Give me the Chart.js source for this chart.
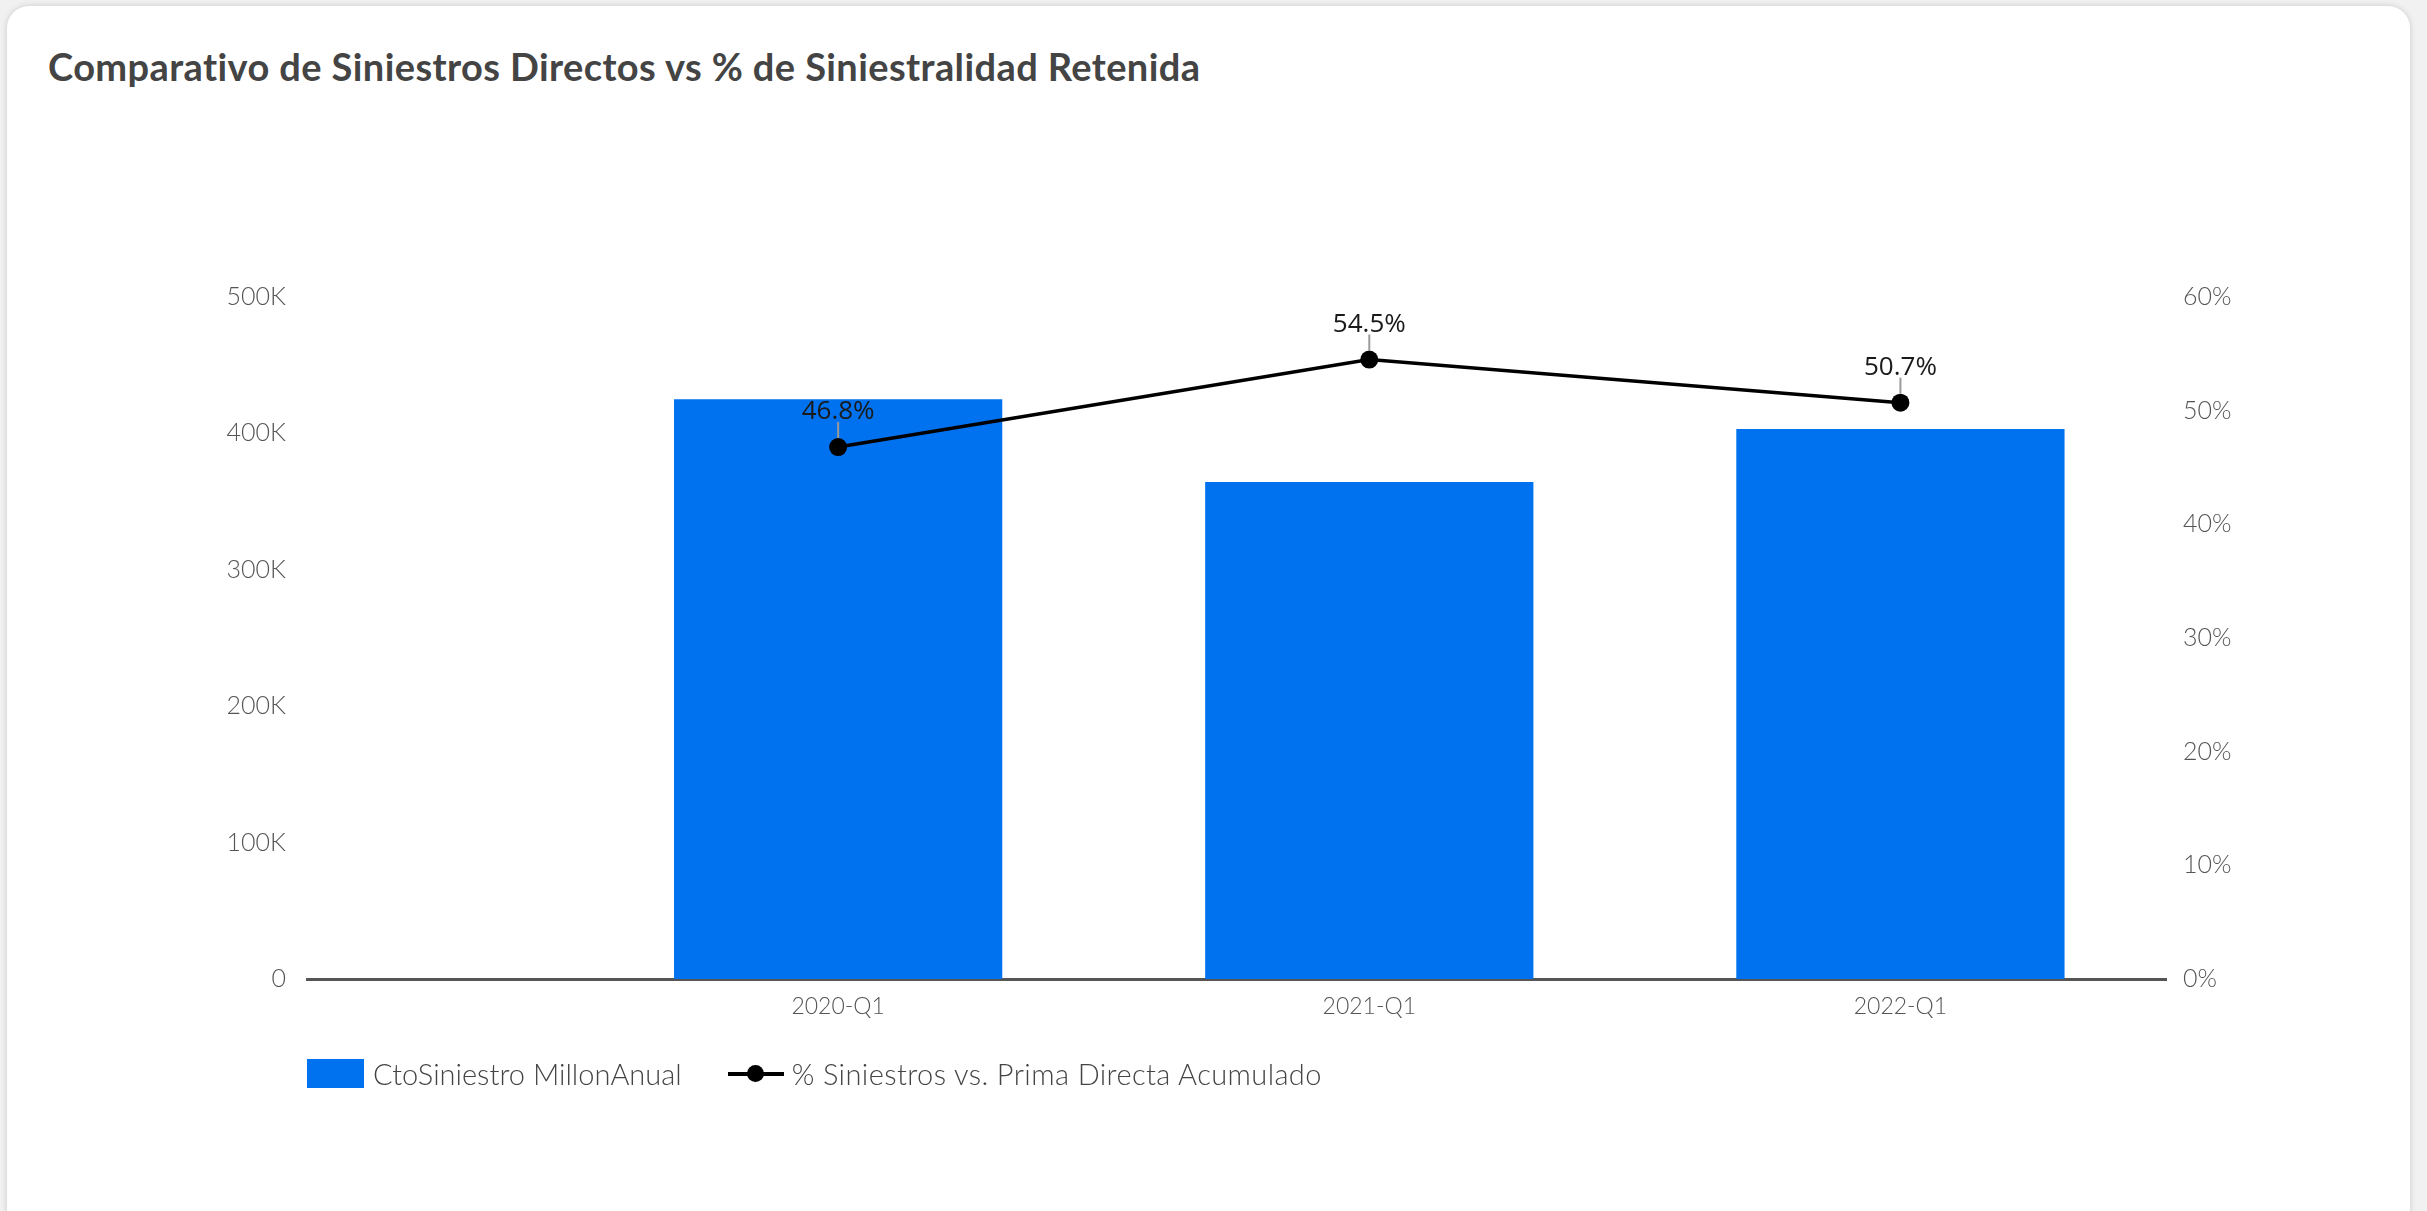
<!DOCTYPE html>
<html>
<head>
<meta charset="utf-8">
<script src="https://cdn.jsdelivr.net/npm/chart.js@4.4.1/dist/chart.umd.min.js"></script>
<style>
html,body{margin:0;padding:0;width:2427px;height:1211px;overflow:hidden;background:#f1f1f1;}
#card{position:absolute;left:7px;top:6px;width:2403px;height:1260px;background:#fff;border-radius:22px;box-shadow:0 0 6px rgba(0,0,0,0.16);}
#title{position:absolute;left:48px;top:43px;font:700 38px Lato, sans-serif;letter-spacing:0.4px;color:#444;white-space:nowrap;}
canvas{position:absolute;left:0;top:0;}
#legend{position:absolute;left:307px;top:1052px;height:42px;display:flex;align-items:center;font:300 29px Lato, sans-serif;color:#444;white-space:nowrap;}
#legend span.t2{letter-spacing:0.4px;}
.box{width:57px;height:29px;background:#0072f0;margin-right:9px;}
.sym{position:relative;width:56px;height:29px;margin-left:46px;margin-right:8px;}
.sym .ln{position:absolute;left:0;right:0;top:13px;height:4px;background:#000;}
.sym .dot{position:absolute;left:19px;top:6px;width:17px;height:17px;border-radius:50%;background:#000;}
</style>
</head>
<body>
<div id="card"></div>
<div id="title">Comparativo de Siniestros Directos vs % de Siniestralidad Retenida</div>
<canvas id="c" width="2427" height="1211"></canvas>
<div id="legend"></div>
<script>
const categories = ['2020-Q1', '2021-Q1', '2022-Q1'];
const categoryPositions = [0, 1, 2];
const siniestrosValues = [425000, 364400, 403200];
const siniestralidadPct = [46.8, 54.5, 50.7];
const barLabel = 'CtoSiniestro MillonAnual';
const lineLabel = '% Siniestros vs. Prima Directa Acumulado';
const leftTicks = [0, 100000, 200000, 300000, 400000, 500000];
const rightTicks = [0, 10, 20, 30, 40, 50, 60];

const barColor = '#0072f0';
const xTickFont = {family: 'Lato', size: 23, weight: '300'};
const yTickFont = {family: 'Lato', size: 25, weight: '300'};

const pointLabels = {
  id: 'pointLabels',
  afterDatasetsDraw(chart) {
    const meta = chart.getDatasetMeta(1);
    const ctx = chart.ctx;
    ctx.save();
    meta.data.forEach((pt, i) => {
      ctx.strokeStyle = '#9a9a9a';
      ctx.lineWidth = 2;
      ctx.beginPath();
      ctx.moveTo(pt.x, pt.y - 9);
      ctx.lineTo(pt.x, pt.y - 25);
      ctx.stroke();
      ctx.fillStyle = '#1a1a1a';
      ctx.font = '400 26px "Open Sans"';
      ctx.textAlign = 'center';
      ctx.textBaseline = 'alphabetic';
      ctx.fillText(siniestralidadPct[i].toFixed(1) + '%', pt.x, pt.y - 28);
    });
    ctx.restore();
  }
};

new Chart(document.getElementById('c'), {
  type: 'bar',
  data: {
    datasets: [
      {
        type: 'bar',
        label: barLabel,
        data: categoryPositions.map((x, i) => ({x: x, y: siniestrosValues[i]})),
        backgroundColor: barColor,
        yAxisID: 'y',
        barPercentage: 0.618,
        categoryPercentage: 1,
        order: 1
      },
      {
        type: 'line',
        label: lineLabel,
        data: categoryPositions.map((x, i) => ({x: x, y: siniestralidadPct[i]})),
        borderColor: '#000',
        backgroundColor: '#000',
        borderWidth: 3.5,
        pointRadius: 9,
        pointBackgroundColor: '#000',
        pointBorderWidth: 0,
        yAxisID: 'y1',
        tension: 0,
        order: 0
      }
    ]
  },
  options: {
    responsive: false,
    animation: false,
    devicePixelRatio: 1,
    layout: {padding: {top: 297, bottom: 172, left: 0, right: 0}},
    plugins: {legend: {display: false}, tooltip: {enabled: false}, title: {display: false}},
    scales: {
      x: {
        type: 'linear',
        min: -1,
        max: 2.5,
        offset: false,
        z: 1,
        grid: {display: false, drawTicks: false},
        border: {display: true, color: '#555', width: 3},
        afterBuildTicks: (s) => { s.ticks = categoryPositions.map(v => ({value: v})); },
        afterFit: (s) => { s.height = 60; },
        ticks: {
          autoSkip: false,
          maxRotation: 0,
          padding: 14,
          color: '#555',
          font: xTickFont,
          callback: (v) => categories[categoryPositions.indexOf(v)] ?? ''
        }
      },
      y: {
        position: 'left',
        min: 0,
        max: 500000,
        grid: {display: false, drawTicks: false},
        border: {display: false},
        afterBuildTicks: (s) => { s.ticks = leftTicks.map(v => ({value: v})); },
        afterFit: (s) => { s.width = 307; },
        ticks: {
          padding: 21,
          color: '#555',
          font: yTickFont,
          callback: (v) => v === 0 ? '0' : (v / 1000) + 'K'
        }
      },
      y1: {
        position: 'right',
        min: 0,
        max: 60,
        grid: {display: false, drawTicks: false},
        border: {display: false},
        afterBuildTicks: (s) => { s.ticks = rightTicks.map(v => ({value: v})); },
        afterFit: (s) => { s.width = 261; },
        ticks: {
          padding: 17,
          color: '#555',
          font: yTickFont,
          callback: (v) => v + '%'
        }
      }
    }
  },
  plugins: [pointLabels]
});

const legend = document.getElementById('legend');
legend.innerHTML =
  '<div class="box"></div><span>' + barLabel + '</span>' +
  '<div class="sym"><div class="ln"></div><div class="dot"></div></div><span class="t2">' + lineLabel + '</span>';
</script>
</body>
</html>
